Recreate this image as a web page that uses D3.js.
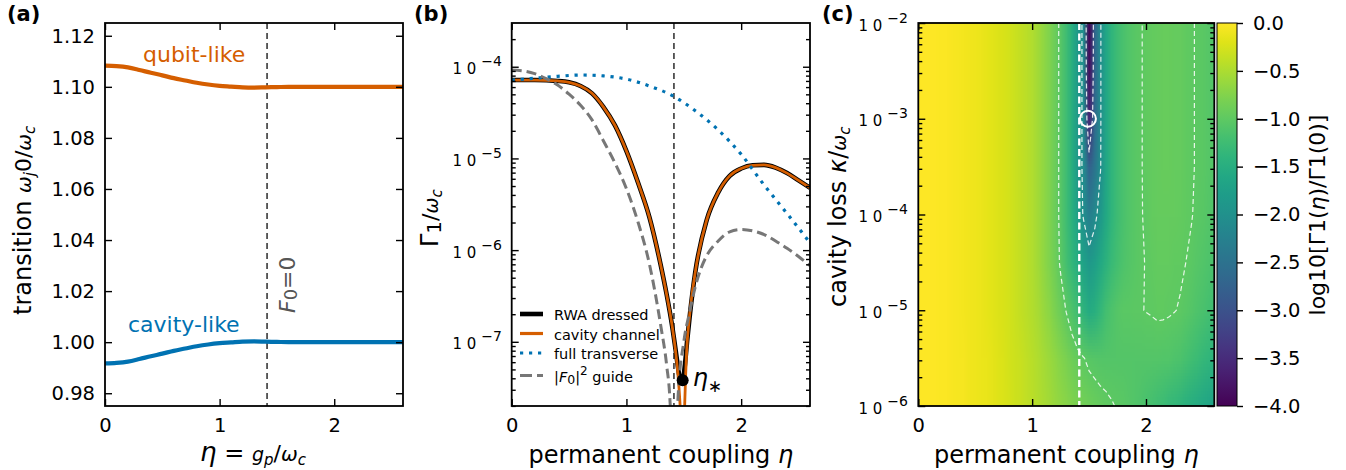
<!DOCTYPE html>
<html>
<head>
<meta charset="utf-8">
<script src="https://cdn.jsdelivr.net/npm/d3@7"></script>
<style>
  body { margin: 0; background: #fff; }
  svg { font-family: "DejaVu Sans", sans-serif; }
</style>
</head>
<body>
<svg id="fig" width="1346" height="470"></svg>
<script>
"use strict";

// ---------- (a) dressed transitions ----------
const etaA = [0, 0.1, 0.2, 0.3, 0.4, 0.5, 0.6, 0.7, 0.8, 0.9, 1.0, 1.1, 1.2, 1.3, 1.4, 1.5, 1.6, 1.7, 1.8, 1.9, 2.0, 2.1, 2.2, 2.3, 2.4, 2.5, 2.6];
const qubitLike = [1.1083, 1.1081, 1.1076, 1.1066, 1.1055, 1.1045, 1.1034, 1.1025, 1.1016, 1.1009, 1.1004, 1.1001, 1.0998, 1.0997, 1.0998, 1.0999, 1.1, 1.1, 1.1, 1.1, 1.1, 1.1, 1.1, 1.1, 1.1, 1.1, 1.1];
const cavityLike = [0.9917, 0.9919, 0.9924, 0.9934, 0.9945, 0.9955, 0.9966, 0.9975, 0.9984, 0.9991, 0.9996, 0.9999, 1.0002, 1.0003, 1.0002, 1.0001, 1.0, 1.0, 1.0, 1.0, 1.0, 1.0, 1.0, 1.0, 1.0, 1.0, 1.0];
const etaF0 = 1.414;

// ---------- (b) decay rates, log10(Gamma1/omega_c) ----------
const etaRWA = [0, 0.2, 0.4, 0.5, 0.6, 0.7, 0.8, 0.9, 1.0, 1.1, 1.2, 1.3, 1.35, 1.4, 1.43, 1.46, 1.485, 1.51, 1.53, 1.55, 1.6, 1.7, 1.8, 1.9, 2.0, 2.1, 2.2, 2.3, 2.4, 2.5, 2.6];
const logRWA = [-4.145, -4.145, -4.155, -4.17, -4.21, -4.29, -4.44, -4.64, -4.92, -5.26, -5.64, -6.17, -6.48, -6.84, -7.10, -7.36, -7.45, -7.25, -6.98, -6.74, -6.24, -5.67, -5.37, -5.19, -5.11, -5.075, -5.07, -5.10, -5.16, -5.24, -5.32];
const etaCav = [0, 0.2, 0.4, 0.5, 0.6, 0.7, 0.8, 0.9, 1.0, 1.1, 1.2, 1.3, 1.35, 1.4, 1.43, 1.455, 1.47, 1.48, 1.488, 1.492, 1.5, 1.51, 1.525, 1.55, 1.6, 1.7, 1.8, 1.9, 2.0, 2.1, 2.2, 2.3, 2.4, 2.5, 2.6];
const logCav = [-4.145, -4.145, -4.155, -4.17, -4.21, -4.29, -4.44, -4.64, -4.92, -5.26, -5.64, -6.17, -6.48, -6.84, -7.12, -7.45, -7.75, -8.1, -9.0, -9.0, -8.1, -7.6, -7.1, -6.72, -6.24, -5.67, -5.37, -5.19, -5.11, -5.075, -5.07, -5.10, -5.16, -5.24, -5.32];
const etaFull = [0, 0.2, 0.4, 0.6, 0.8, 1.0, 1.2, 1.4, 1.6, 1.8, 2.0, 2.2, 2.4, 2.6];
const logFull = [-4.145, -4.125, -4.105, -4.09, -4.10, -4.135, -4.21, -4.315, -4.48, -4.69, -4.955, -5.29, -5.60, -5.92];
const etaGuide = [0, 0.1, 0.2, 0.3, 0.4, 0.5, 0.6, 0.7, 0.8, 0.9, 1.0, 1.1, 1.2, 1.3, 1.35, 1.38, 1.40, 1.414, 1.43, 1.45, 1.5, 1.55, 1.6, 1.65, 1.7, 1.8, 1.9, 2.0, 2.1, 2.2, 2.3, 2.4, 2.5, 2.6];
const logGuide = [-4.036, -4.045, -4.075, -4.13, -4.2, -4.3, -4.42, -4.58, -4.81, -5.05, -5.33, -5.69, -6.15, -6.83, -7.25, -7.65, -8.3, -10, -8.2, -7.6, -7.0, -6.68, -6.40, -6.20, -6.06, -5.9, -5.8, -5.775, -5.79, -5.83, -5.9, -5.98, -6.07, -6.17];
const etaStar = 1.49, logStar = -7.42;
const legendLabels = ["RWA dressed", "cavity channel", "full transverse", "|F0|2 guide"];

// ---------- (c) log10[Gamma1(eta)/Gamma1(0)] on (eta, kappa) grid ----------
const etaC = [0, 0.05, 0.1, 0.15, 0.2, 0.25, 0.3, 0.35, 0.4, 0.45, 0.5, 0.55, 0.6, 0.65, 0.7, 0.75, 0.8, 0.85, 0.9, 0.95,
  1.0, 1.05, 1.1, 1.15, 1.2, 1.25, 1.3, 1.35, 1.4, 1.45, 1.5, 1.55, 1.6, 1.65, 1.7, 1.75, 1.8, 1.85, 1.9, 1.95,
  2.0, 2.05, 2.1, 2.15, 2.2, 2.25, 2.3, 2.35, 2.4, 2.45, 2.5, 2.55, 2.6];
const kappaExp = [-6, -5.5, -5, -4.5, -4, -3.5, -3, -2.5, -2];
const r60 = [0, 0, -0.01, -0.01, -0.02, -0.03, -0.04, -0.05, -0.06, -0.08, -0.10, -0.12, -0.14, -0.17, -0.20, -0.23, -0.26, -0.30, -0.34, -0.38,
  -0.42, -0.46, -0.51, -0.56, -0.61, -0.66, -0.71, -0.76, -0.81, -0.85, -0.89, -0.92, -0.95, -0.97, -0.99, -1.01, -1.03, -1.06, -1.09, -1.12,
  -1.16, -1.20, -1.24, -1.28, -1.33, -1.37, -1.42, -1.47, -1.52, -1.57, -1.62, -1.67, -1.72];
const r55 = [0, 0, -0.01, -0.01, -0.02, -0.03, -0.04, -0.05, -0.06, -0.08, -0.10, -0.12, -0.14, -0.17, -0.20, -0.23, -0.27, -0.30, -0.34, -0.39,
  -0.43, -0.48, -0.54, -0.60, -0.67, -0.74, -0.81, -0.88, -0.94, -0.99, -1.04, -1.06, -1.07, -1.07, -1.07, -1.07, -1.07, -1.07, -1.07, -1.07,
  -1.07, -1.07, -1.07, -1.08, -1.09, -1.11, -1.14, -1.18, -1.23, -1.28, -1.33, -1.38, -1.44];
const r50 = [0, 0, -0.01, -0.01, -0.02, -0.03, -0.04, -0.05, -0.07, -0.08, -0.10, -0.12, -0.15, -0.18, -0.21, -0.24, -0.28, -0.32, -0.36, -0.41,
  -0.46, -0.53, -0.61, -0.70, -0.80, -0.90, -1.01, -1.12, -1.25, -1.42, -1.55, -1.48, -1.33, -1.20, -1.12, -1.06, -1.03, -1.02, -1.01, -1.005,
  -0.997, -0.99, -0.98, -0.98, -0.985, -0.995, -1.01, -1.04, -1.07, -1.11, -1.15, -1.20, -1.25];
const r45 = [0, 0, -0.01, -0.01, -0.02, -0.03, -0.04, -0.05, -0.07, -0.08, -0.10, -0.12, -0.15, -0.18, -0.21, -0.24, -0.28, -0.32, -0.37, -0.42,
  -0.48, -0.56, -0.66, -0.77, -0.89, -1.03, -1.20, -1.36, -1.53, -1.70, -1.85, -1.76, -1.59, -1.43, -1.29, -1.19, -1.12, -1.07, -1.04, -1.015,
  -0.995, -0.975, -0.965, -0.96, -0.96, -0.97, -0.98, -1.00, -1.02, -1.05, -1.08, -1.12, -1.16];
const r40 = [0, 0, -0.01, -0.01, -0.02, -0.03, -0.04, -0.05, -0.07, -0.08, -0.10, -0.12, -0.15, -0.18, -0.21, -0.24, -0.28, -0.32, -0.37, -0.42,
  -0.48, -0.56, -0.66, -0.77, -0.90, -1.05, -1.24, -1.46, -1.75, -2.03, -2.30, -2.10, -1.85, -1.58, -1.38, -1.24, -1.15, -1.08, -1.04, -1.01,
  -0.985, -0.965, -0.95, -0.94, -0.94, -0.95, -0.96, -0.98, -0.995, -1.02, -1.04, -1.07, -1.11];
const r35 = [0, 0, -0.01, -0.01, -0.02, -0.03, -0.04, -0.05, -0.07, -0.08, -0.10, -0.12, -0.15, -0.18, -0.21, -0.24, -0.28, -0.32, -0.37, -0.42,
  -0.48, -0.56, -0.66, -0.77, -0.90, -1.05, -1.25, -1.50, -1.85, -2.05, -2.75, -2.45, -2.02, -1.62, -1.38, -1.24, -1.15, -1.08, -1.04, -1.01,
  -0.98, -0.96, -0.94, -0.93, -0.93, -0.94, -0.95, -0.97, -0.99, -1.01, -1.03, -1.06, -1.09];
const r30 = [0, 0, -0.01, -0.01, -0.02, -0.03, -0.04, -0.05, -0.07, -0.08, -0.10, -0.12, -0.15, -0.18, -0.21, -0.24, -0.28, -0.32, -0.37, -0.42,
  -0.48, -0.56, -0.66, -0.77, -0.90, -1.05, -1.25, -1.50, -1.85, -2.05, -3.60, -2.62, -2.03, -1.62, -1.38, -1.24, -1.15, -1.08, -1.04, -1.01,
  -0.98, -0.96, -0.94, -0.93, -0.93, -0.94, -0.95, -0.97, -0.99, -1.01, -1.03, -1.06, -1.09];
const r25 = [0, 0, -0.01, -0.01, -0.02, -0.03, -0.04, -0.05, -0.07, -0.08, -0.10, -0.12, -0.15, -0.18, -0.21, -0.24, -0.28, -0.32, -0.37, -0.42,
  -0.48, -0.56, -0.66, -0.77, -0.90, -1.05, -1.25, -1.50, -1.85, -2.05, -3.90, -2.68, -2.03, -1.62, -1.38, -1.24, -1.15, -1.08, -1.04, -1.01,
  -0.98, -0.96, -0.94, -0.93, -0.93, -0.94, -0.95, -0.97, -0.99, -1.01, -1.03, -1.06, -1.09];
const r20 = [0, 0, -0.01, -0.01, -0.02, -0.03, -0.04, -0.05, -0.07, -0.08, -0.10, -0.12, -0.15, -0.18, -0.21, -0.24, -0.28, -0.32, -0.37, -0.42,
  -0.48, -0.56, -0.66, -0.77, -0.90, -1.05, -1.25, -1.50, -1.85, -2.05, -4.00, -2.68, -2.03, -1.62, -1.38, -1.24, -1.15, -1.08, -1.04, -1.01,
  -0.98, -0.96, -0.94, -0.93, -0.93, -0.94, -0.95, -0.97, -0.99, -1.01, -1.03, -1.06, -1.09];
const logRatio = [r60, r55, r50, r45, r40, r35, r30, r25, r20];  // rows follow kappaExp
const contourLevels = [-3, -2, -1];
const marker = { eta: 1.49, kappa: 1e-3 };
const cbarTicks = [-4, -3.5, -3, -2.5, -2, -1.5, -1, -0.5, 0];

const ORANGE = "#d55e00", BLUE = "#0072b2", GREY = "#777777";
const FONT = "'DejaVu Sans', sans-serif";

const svg = d3.select("#fig");
const defs = svg.append("defs");

const pA = { x0: 105, x1: 403, y0: 23, y1: 406 };
const pB = { x0: 511.7, x1: 810, y0: 23, y1: 406 };
const pC = { x0: 918.3, x1: 1214.3, y0: 23, y1: 406 };

function addClip(id, p) {
  defs.append("clipPath").attr("id", id).append("rect")
    .attr("x", p.x0).attr("y", p.y0).attr("width", p.x1 - p.x0).attr("height", p.y1 - p.y0);
}
addClip("clipA", pA); addClip("clipB", pB); addClip("clipC", pC);

function styleAxis(g) {
  g.select(".domain").remove();
  g.selectAll(".tick line").attr("stroke", "#000").attr("stroke-width", 1.4);
  g.selectAll(".tick text").attr("fill", "#000").style("font-size", "19.5px").style("font-family", FONT);
}

function drawAxes(p, xs, ys, xTicks, yTicks, yFmt, yMinor) {
  svg.append("g").attr("transform", `translate(0,${p.y1})`)
    .call(d3.axisBottom(xs).tickValues(xTicks).tickSizeInner(-7).tickSizeOuter(0).tickPadding(12.5).tickFormat(d3.format("d")))
    .call(styleAxis);
  svg.append("g").attr("transform", `translate(0,${p.y0})`)
    .call(d3.axisTop(xs).tickValues(xTicks).tickSizeInner(-7).tickSizeOuter(0).tickFormat(""))
    .call(styleAxis);
  svg.append("g").attr("transform", `translate(${p.x0},0)`)
    .call(d3.axisLeft(ys).tickValues(yTicks).tickSizeInner(-7).tickSizeOuter(0).tickPadding(10).tickFormat(yFmt))
    .call(styleAxis);
  svg.append("g").attr("transform", `translate(${p.x1},0)`)
    .call(d3.axisRight(ys).tickValues(yTicks).tickSizeInner(-7).tickSizeOuter(0).tickFormat(""))
    .call(styleAxis);
  if (yMinor) {
    svg.append("g").attr("transform", `translate(${p.x0},0)`)
      .call(d3.axisLeft(ys).tickValues(yMinor).tickSizeInner(-4).tickSizeOuter(0).tickFormat(""))
      .call(styleAxis);
    svg.append("g").attr("transform", `translate(${p.x1},0)`)
      .call(d3.axisRight(ys).tickValues(yMinor).tickSizeInner(-4).tickSizeOuter(0).tickFormat(""))
      .call(styleAxis);
  }
  svg.append("rect").attr("x", p.x0).attr("y", p.y0)
    .attr("width", p.x1 - p.x0).attr("height", p.y1 - p.y0)
    .attr("fill", "none").attr("stroke", "#000").attr("stroke-width", 1.8);
}

function logLabels(ys, exps, xEnd) {
  exps.forEach(e => {
    const t = svg.append("text").attr("x", xEnd).attr("y", ys(10 ** e) + 7.5)
      .attr("text-anchor", "end").style("font-size", "15px");
    t.append("tspan").text("1 0");
    t.append("tspan").attr("dx", 5).attr("dy", -8).style("font-size", "14px").text("\u2212" + Math.abs(e));
  });
}

function minorTicks(lo, hi) {
  const out = [];
  for (let d = Math.floor(lo); d <= Math.ceil(hi); d++) {
    for (let k = 2; k <= 9; k++) {
      const v = k * 10 ** d;
      if (Math.log10(v) >= lo && Math.log10(v) <= hi) out.push(v);
    }
  }
  return out;
}

// parts: [text, size, italic, dy]
function richText(x, y, parts, anchor, rotate, fill) {
  const t = svg.append("text")
    .attr("transform", `translate(${x},${y})` + (rotate ? ` rotate(${rotate})` : ""))
    .attr("text-anchor", anchor || "middle").attr("fill", fill || "#000");
  parts.forEach(([s, size, it, dy]) => {
    t.append("tspan").attr("dy", dy || 0).style("font-size", size + "px")
      .style("font-style", it ? "italic" : "normal").text(s);
  });
  return t;
}

function panelLabel(x, s) {
  svg.append("text").attr("x", x).attr("y", 21).style("font-size", "21px")
    .style("font-weight", "bold").text(s);
}

// ================= panel (a) =================
const xA = d3.scaleLinear().domain([0, 2.6]).range([pA.x0, pA.x1]);
const yA = d3.scaleLinear().domain([0.975, 1.125]).range([pA.y1, pA.y0]);
const gA = svg.append("g").attr("clip-path", "url(#clipA)");
const lineA = d3.line().x((d, i) => xA(etaA[i])).y(d => yA(d)).curve(d3.curveMonotoneX);

gA.append("line").attr("x1", xA(etaF0)).attr("x2", xA(etaF0)).attr("y1", pA.y0).attr("y2", pA.y1)
  .attr("stroke", "#444").attr("stroke-width", 1.7).attr("stroke-dasharray", "6,4");
gA.append("path").attr("d", lineA(qubitLike)).attr("fill", "none").attr("stroke", ORANGE).attr("stroke-width", 4.2);
gA.append("path").attr("d", lineA(cavityLike)).attr("fill", "none").attr("stroke", BLUE).attr("stroke-width", 4.2);

drawAxes(pA, xA, yA, [0, 1, 2], [0.98, 1.0, 1.02, 1.04, 1.06, 1.08, 1.10, 1.12], d3.format(".2f"));

svg.append("text").attr("x", 143).attr("y", 62).attr("fill", ORANGE).style("font-size", "22px").text("qubit-like");
svg.append("text").attr("x", 128).attr("y", 332).attr("fill", BLUE).style("font-size", "22px").text("cavity-like");
richText(295, 313, [["F", 22, true], ["0", 18, false, 2], ["=", 22, false, -2], ["0", 22, false]], "start", -90, "#555");

richText(31, 315, [["transition ", 24], ["\u03c9", 20, true], ["j", 15, true, 4], ["0/", 22, false, -4],
  ["\u03c9", 20, true], ["c", 15, true, 4]], "start", -90);
richText(253, 461, [["\u03b7", 26, true], [" = ", 24], ["g", 19, true], ["p", 15, true, 4], ["/", 22, false, -4],
  ["\u03c9", 20, true], ["c", 15, true, 4]], "middle");
panelLabel(7, "(a)");

// ================= panel (b) =================
const xB = d3.scaleLinear().domain([0, 2.6]).range([pB.x0, pB.x1]);
const yB = d3.scaleLog().domain([10 ** -7.7, 10 ** -3.523]).range([pB.y1, pB.y0]);
const gB = svg.append("g").attr("clip-path", "url(#clipB)");
function lineB(etas) {
  return d3.line().x((d, i) => xB(etas[i])).y(d => yB(10 ** d)).curve(d3.curveMonotoneX);
}
gB.append("line").attr("x1", xB(etaF0)).attr("x2", xB(etaF0)).attr("y1", pB.y0).attr("y2", pB.y1)
  .attr("stroke", "#444").attr("stroke-width", 1.7).attr("stroke-dasharray", "6,4");
gB.append("path").attr("d", lineB(etaRWA)(logRWA)).attr("fill", "none").attr("stroke", "#000").attr("stroke-width", 4.6);
gB.append("path").attr("d", lineB(etaCav)(logCav)).attr("fill", "none").attr("stroke", ORANGE).attr("stroke-width", 2.8);
gB.append("path").attr("d", lineB(etaFull)(logFull)).attr("fill", "none").attr("stroke", BLUE)
  .attr("stroke-width", 3.2).attr("stroke-dasharray", "3.2,5.8");
gB.append("path").attr("d", lineB(etaGuide)(logGuide)).attr("fill", "none").attr("stroke", GREY)
  .attr("stroke-width", 3).attr("stroke-dasharray", "10,5");
gB.append("circle").attr("cx", xB(etaStar)).attr("cy", yB(10 ** logStar)).attr("r", 6).attr("fill", "#000");

drawAxes(pB, xB, yB, [0, 1, 2], [1e-7, 1e-6, 1e-5, 1e-4], "", minorTicks(-7.7, -3.523));
logLabels(yB, [-7, -6, -5, -4], 502);

richText(xB(etaStar) + 10, yB(10 ** logStar) + 6, [["\u03b7", 24, true], ["\u2217", 17, false, 6]], "start");

// legend
const legY = [314, 333.5, 353, 375.5];
const legStyles = [
  { c: "#000", w: 4.6, d: null },
  { c: ORANGE, w: 3.2, d: null },
  { c: BLUE, w: 3.2, d: "3.2,5.8" },
  { c: GREY, w: 3, d: "12,5" }
];
legStyles.forEach((s, i) => {
  svg.append("line").attr("x1", 520).attr("x2", 543).attr("y1", legY[i]).attr("y2", legY[i])
    .attr("stroke", s.c).attr("stroke-width", s.w).attr("stroke-dasharray", s.d);
});
legendLabels.slice(0, 3).forEach((s, i) => {
  svg.append("text").attr("x", 554).attr("y", legY[i] + 6).style("font-size", "14.5px").text(s);
});
richText(554, legY[3] + 6, [["|", 14.5], ["F", 14.5, true], ["0", 12.5, false, 2], ["|", 14.5, false, -2],
  ["2", 12, false, -7], [" guide", 14.5, false, 7]], "start");

richText((pB.x0 + pB.x1) / 2, 463, [["permanent coupling ", 24], ["\u03b7", 24, true]], "middle");
richText(438, 247, [["\u0393", 24], ["1", 20, false, 3], ["/", 22, false, -3], ["\u03c9", 19, true], ["c", 15, true, 4]], "start", -90);
panelLabel(414, "(b)");

// ================= panel (c) =================
const xC = d3.scaleLinear().domain([0, 2.6]).range([pC.x0, pC.x1]);
const yC = d3.scaleLog().domain([1e-6, 1e-2]).range([pC.y1, pC.y0]);
const color = d3.scaleSequential(d3.interpolateViridis).domain([-4, 0]);
const gC = svg.append("g").attr("clip-path", "url(#clipC)");

const nx = etaC.length, ny = kappaExp.length;
const dEta = etaC[1] - etaC[0], dK = kappaExp[1] - kappaExp[0];

// small raster, one pixel per grid cell, smoothed by the browser when scaled
const cnv = document.createElement("canvas");
cnv.width = nx; cnv.height = ny;
const ctx = cnv.getContext("2d");
const img = ctx.createImageData(nx, ny);
for (let r = 0; r < ny; r++) {
  const row = logRatio[ny - 1 - r];
  for (let i = 0; i < nx; i++) {
    const c = d3.rgb(color(row[i]));
    const k = 4 * (r * nx + i);
    img.data[k] = c.r; img.data[k + 1] = c.g; img.data[k + 2] = c.b; img.data[k + 3] = 255;
  }
}
ctx.putImageData(img, 0, 0);
const ix0 = xC(etaC[0] - dEta / 2), ix1 = xC(etaC[nx - 1] + dEta / 2);
const iy0 = yC(10 ** (kappaExp[ny - 1] + dK / 2)), iy1 = yC(10 ** (kappaExp[0] - dK / 2));
gC.append("image").attr("href", cnv.toDataURL())
  .attr("x", ix0).attr("y", iy0).attr("width", ix1 - ix0).attr("height", iy1 - iy0)
  .attr("preserveAspectRatio", "none").style("image-rendering", "auto");

// contours
const flat = [];
logRatio.forEach(row => row.forEach(v => flat.push(v)));
const cont = d3.contours().size([nx, ny]).thresholds(contourLevels)(flat);
function proj([gx, gy]) {
  const eta = etaC[0] + (gx - 0.5) * dEta;
  const ke = kappaExp[0] + (gy - 0.5) * dK;
  return [xC(eta).toFixed(2), yC(10 ** ke).toFixed(2)];
}
cont.forEach(c => {
  const d = c.coordinates.map(poly => poly.map(ring => "M" + ring.map(pt => proj(pt).join(",")).join("L") + "Z").join("")).join("");
  gC.append("path").attr("d", d).attr("fill", "none").attr("stroke", "#fff").attr("stroke-opacity", 0.85)
    .attr("stroke-width", 1.2).attr("stroke-dasharray", "5,3");
});
gC.append("line").attr("x1", xC(etaF0)).attr("x2", xC(etaF0)).attr("y1", pC.y0).attr("y2", pC.y1)
  .attr("stroke", "#fff").attr("stroke-width", 2.4).attr("stroke-dasharray", "7,3.5");
gC.append("circle").attr("cx", xC(marker.eta)).attr("cy", yC(marker.kappa)).attr("r", 8)
  .attr("fill", "none").attr("stroke", "#fff").attr("stroke-width", 2);

drawAxes(pC, xC, yC, [0, 1, 2], [1e-6, 1e-5, 1e-4, 1e-3, 1e-2], "", minorTicks(-6, -2));
logLabels(yC, [-6, -5, -4, -3, -2], 908);

richText((pC.x0 + pC.x1) / 2, 463, [["permanent coupling ", 24], ["\u03b7", 24, true]], "middle");
richText(846, 307, [["cavity loss ", 24], ["\u03ba", 24, true], ["/", 24], ["\u03c9", 19, true], ["c", 15, true, 4]], "start", -90);
panelLabel(822, "(c)");

// colorbar
const cb = { x0: 1217, x1: 1237, y0: 23, y1: 406 };
const grad = defs.append("linearGradient").attr("id", "viridisGrad")
  .attr("x1", 0).attr("y1", 0).attr("x2", 0).attr("y2", 1);
d3.range(0, 1.0001, 0.05).forEach(o => {
  grad.append("stop").attr("offset", o).attr("stop-color", d3.interpolateViridis(1 - o));
});
svg.append("rect").attr("x", cb.x0).attr("y", cb.y0).attr("width", cb.x1 - cb.x0).attr("height", cb.y1 - cb.y0)
  .attr("fill", "url(#viridisGrad)").attr("stroke", "#000").attr("stroke-width", 1);
const yCb = d3.scaleLinear().domain([-4, 0]).range([cb.y1, cb.y0]);
svg.append("g").attr("transform", `translate(${cb.x1},0)`)
  .call(d3.axisRight(yCb).tickValues(cbarTicks).tickSizeInner(6).tickSizeOuter(0).tickPadding(10).tickFormat(d3.format(".1f")))
  .call(styleAxis);
richText(1325, 215, [["log10[\u03931(", 22], ["\u03b7", 22, true], [")/\u03931(0)]", 22]], "middle", -90);
</script>
</body>
</html>
